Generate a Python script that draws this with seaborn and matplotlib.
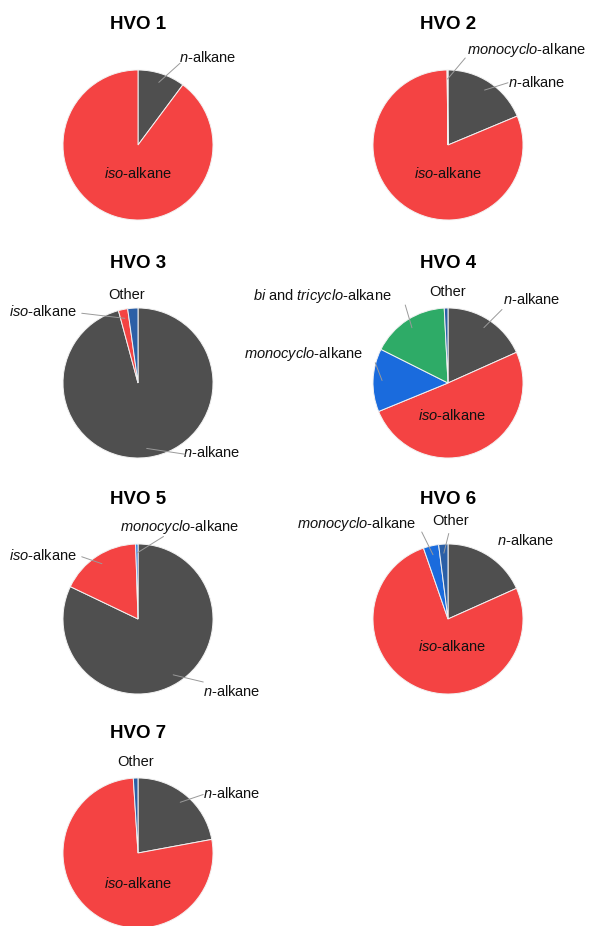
import numpy as np
import matplotlib
matplotlib.use("Agg")
import matplotlib.pyplot as plt
import seaborn as sns

sns.set_theme(style="white")
plt.rcParams['font.family'] = ['Liberation Sans', 'DejaVu Sans']
plt.rcParams['mathtext.fontset'] = 'custom'
plt.rcParams['mathtext.rm'] = 'Liberation Sans'
plt.rcParams['mathtext.it'] = 'Liberation Sans:italic'

# ---- data ----
categories = ['n-alkane', 'iso-alkane', 'monocyclo-alkane', 'bi and tricyclo-alkane', 'Other']
titles = ['HVO 1', 'HVO 2', 'HVO 3', 'HVO 4', 'HVO 5', 'HVO 6', 'HVO 7']
hvo1 = [10.2, 89.8, 0.0, 0.0, 0.0]
hvo2 = [18.7, 81.1, 0.2, 0.0, 0.0]
hvo3 = [95.8, 2.0, 0.0, 0.0, 2.2]
hvo4 = [18.3, 50.5, 13.6, 16.8, 0.8]
hvo5 = [82.1, 17.4, 0.5, 0.0, 0.0]
hvo6 = [18.3, 76.4, 3.3, 0.0, 2.0]
hvo7 = [22.1, 76.9, 0.0, 0.0, 1.0]
series = [hvo1, hvo2, hvo3, hvo4, hvo5, hvo6, hvo7]

label_text = {
    'n-alkane': r'$\mathit{n}$-alkane',
    'iso-alkane': r'$\mathit{iso}$-alkane',
    'monocyclo-alkane': r'$\mathit{monocyclo}$-alkane',
    'bi and tricyclo-alkane': r'$\mathit{bi}$ and $\mathit{tricyclo}$-alkane',
    'Other': 'Other',
}
palette = sns.color_palette(['#4F4F4F', '#F44343', '#1A6BDD', '#2EAB67', '#2B5FA6'])
colors = dict(zip(categories, palette))

# label layout per chart: category -> (text x, text y, leader end or None) in pie-radius units
layout = [
    {'n-alkane': (0.93, 1.16, (0.56, 1.09)), 'iso-alkane': (0.0, -0.38, None)},
    {'monocyclo-alkane': (1.05, 1.27, (0.23, 1.16)), 'n-alkane': (1.18, 0.83, (0.80, 0.83)),
     'iso-alkane': (0.0, -0.38, None)},
    {'Other': (-0.15, 1.17, None), 'iso-alkane': (-1.26, 0.95, (-0.75, 0.93)),
     'n-alkane': (0.98, -0.93, (0.63, -0.95))},
    {'Other': (0.0, 1.22, None), 'n-alkane': (1.12, 1.11, (0.72, 0.98)),
     'bi and tricyclo-alkane': (-1.67, 1.16, (-0.57, 1.04)),
     'monocyclo-alkane': (-1.92, 0.39, (-0.97, 0.27)), 'iso-alkane': (0.05, -0.44, None)},
    {'monocyclo-alkane': (0.56, 1.23, (0.34, 1.10)), 'iso-alkane': (-1.26, 0.84, (-0.75, 0.83)),
     'n-alkane': (1.25, -0.96, (0.87, -0.84))},
    {'Other': (0.04, 1.31, (0.01, 1.14)), 'monocyclo-alkane': (-1.22, 1.27, (-0.35, 1.16)),
     'n-alkane': (1.03, 1.05, None), 'iso-alkane': (0.05, -0.37, None)},
    {'Other': (-0.03, 1.22, None), 'n-alkane': (1.25, 0.80, (0.87, 0.78)),
     'iso-alkane': (0.0, -0.40, None)},
]

W, H = 590, 926
R = 75.0  # pie radius in px
centers = [(138, 145), (448, 145), (138, 383), (448, 383), (138, 619), (448, 619), (138, 853)]
cw, ch = 294, 236

fig = plt.figure(figsize=(W / 100, H / 100), dpi=100)
fig.patch.set_facecolor('white')

for i, (vals, title) in enumerate(zip(series, titles)):
    cx, cy = centers[i]
    ax = fig.add_axes([(cx - cw / 2) / W, (H - cy - ch / 2) / H, cw / W, ch / H])
    cats = [c for c, v in zip(categories, vals) if v > 0]
    vv = [v for v in vals if v > 0]
    ax.pie(vv, colors=[colors[c] for c in cats], startangle=90, counterclock=False,
           radius=1, center=(0, 0), frame=True,
           wedgeprops=dict(edgecolor='#F2F2F2', linewidth=0.7))
    ax.set_xlim(-cw / 2 / R, cw / 2 / R)
    ax.set_ylim(-ch / 2 / R, ch / 2 / R)
    ax.set_aspect('auto')
    ax.axis('off')
    ax.text(0, 120 / R, title, ha='center', va='center', fontsize=13.5,
            fontweight='bold', color='black', clip_on=False)
    total = sum(vv)
    cum = np.cumsum([0] + vv)
    for j, c in enumerate(cats):
        if c not in layout[i]:
            continue
        tx, ty, lend = layout[i][c]
        ax.text(tx, ty, label_text[c], ha='center', va='center', fontsize=10.5,
                color='#111111', clip_on=False)
        if lend is not None:
            mid = (cum[j] + cum[j + 1]) / 2 / total
            th = np.deg2rad(90 - 360 * mid)
            sx, sy = 0.88 * np.cos(th), 0.88 * np.sin(th)
            ax.plot([sx, lend[0]], [sy, lend[1]], color='#9A9A9A', lw=0.7,
                    clip_on=False, zorder=5)

fig.savefig('out.png', dpi=100, facecolor='white')
